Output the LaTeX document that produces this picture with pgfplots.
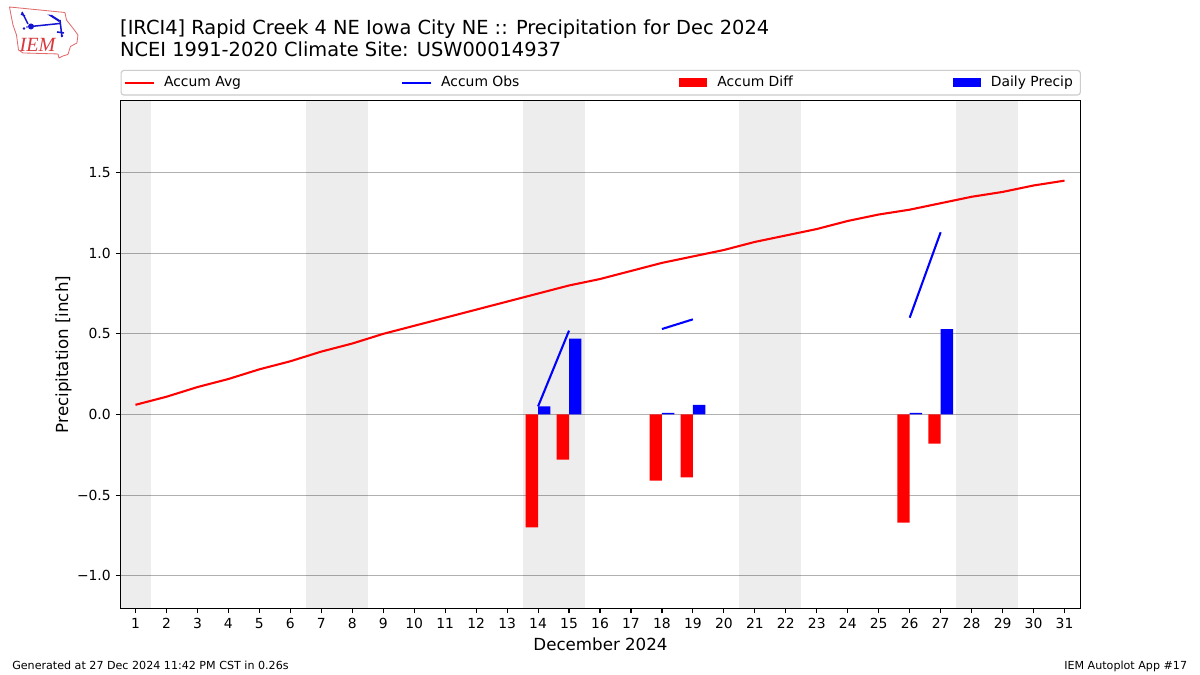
\documentclass[border=0pt]{standalone}
\usepackage{fontspec}
\setmainfont{DejaVu Sans}
\newfontfamily\logofont{Liberation Serif}
\usepackage{pgfplots}
\pgfplotsset{compat=1.18}
\definecolor{gridgray}{HTML}{B0B0B0}
\definecolor{legendgray}{HTML}{CCCCCC}
\definecolor{logored}{HTML}{D8383C}
\definecolor{logoblue}{HTML}{1414D2}
\newcommand{\fs}[1]{\fontsize{#1bp}{#1bp}\selectfont}
\pgfplotsset{
  bandstyle/.style={fill=black, fill opacity=0.07, draw=none, forget plot},
  linelegend/.style={legend image code/.code={\draw[##1] (0in,0in) -- (0.29in,0in); \path (0.355in,0in);}},
}

\begin{document}
\begin{tikzpicture}
\path[use as bounding box, fill=white] (0,0) rectangle (12in,6.75in);

% logo and page text, in pixels from the top left
\begin{scope}[shift={(0in,6.75in)}, x=0.01in, y=-0.01in]
  \draw[logored!75, line width=0.6pt, line join=round]
    (9.5,7) -- (65,12.5) -- (66.5,20) -- (74,29.5) -- (78,35) -- (77,43) -- (70.5,46.5) -- (68,54.5)
    -- (63,56) -- (59,58) -- (58,54) -- (23,53) -- (18.5,50) -- (16.5,35) -- (13,25) -- (11,15) -- cycle;
  \draw[logoblue, line width=1.1pt] (31,26.5) -- (60,23.5) (60,20) -- (62,37) (22,12) -- (28,24)
    (21,14) -- (25,16) (57,32) -- (64,33);
  \fill[logoblue] (47.5,14.5) -- (52,15) -- (60.5,20.5) -- (59,22) -- cycle;
  \fill[logoblue] (31,26.5) circle (3);
  \fill[logoblue] (24,28.5) circle (1.3) (62,36) circle (1.3) (27,27) circle (0.8);
  \node[anchor=center, inner sep=0pt, text=logored] at (37.5,44.5) {\logofont\fs{14.5}\itshape IEM};
  \node[anchor=base west, inner sep=0pt] at (120,35) {\fs{13.96}[IRCI4] Rapid Creek 4 NE Iowa City NE :: Precipitation for Dec 2024};
  \node[anchor=base west, inner sep=0pt] at (120,57) {\fs{13.96}NCEI 1991-2020 Climate Site: USW00014937};
  \node[anchor=base west, inner sep=0pt] at (12,670) {\fs{8}Generated at 27 Dec 2024 11:42 PM CST in 0.26s};
  \node[anchor=base east, inner sep=0pt] at (1188,670) {\fs{8}IEM Autoplot App \#17};
\end{scope}

\begin{axis}[
  at={(1.205in,0.665in)},
  anchor=south west,
  scale only axis,
  width=9.6in,
  height=5.08in,
  xmin=0.516, xmax=31.516,
  ymin=-1.203, ymax=1.947,
  xtick={1,...,31},
  ytick={-1,-0.5,0,0.5,1,1.5},
  yticklabels={−1.0,−0.5,0.0,0.5,1.0,1.5},
  /pgf/number format/assume math mode=true,
  xtick pos=bottom,
  ytick pos=left,
  tick align=outside,
  major tick length=3.5bp,
  tick style={black, line width=0.8bp},
  axis line style={black, line width=0.8bp},
  tick label style={font=\fs{10}},
  xlabel={December 2024},
  ylabel={Precipitation [inch]},
  ylabel shift=-3bp,
  label style={font=\fs{12}},
  ymajorgrids,
  major grid style={gridgray, line width=0.8bp},
  legend columns=4,
  legend cell align=left,
  legend style={
    at={(axis description cs:0,1.0098)},
    anchor=south west,
    font=\fs{10},
    draw=legendgray,
    line width=0.8bp,
    rounded corners=2bp,
    inner xsep=1.9bp,
    inner ysep=2.3bp,
    /tikz/every even column/.append style={column sep=1.57in},
  },
]
\addplot[bandstyle] coordinates {(0.5,-1.25) (1.5,-1.25) (1.5,2) (0.5,2)} -- cycle;
\addplot[bandstyle] coordinates {(6.5,-1.25) (8.5,-1.25) (8.5,2) (6.5,2)} -- cycle;
\addplot[bandstyle] coordinates {(13.5,-1.25) (15.5,-1.25) (15.5,2) (13.5,2)} -- cycle;
\addplot[bandstyle] coordinates {(20.5,-1.25) (22.5,-1.25) (22.5,2) (20.5,2)} -- cycle;
\addplot[bandstyle] coordinates {(27.5,-1.25) (29.5,-1.25) (29.5,2) (27.5,2)} -- cycle;

\addplot[red, line width=1.5bp, linelegend] coordinates {
  (1,0.06) (2,0.11) (3,0.17) (4,0.22) (5,0.28) (6,0.33) (7,0.39) (8,0.44)
  (9,0.50) (10,0.55) (11,0.60) (12,0.65) (13,0.70) (14,0.75) (15,0.80) (16,0.84)
  (17,0.89) (18,0.94) (19,0.98) (20,1.02) (21,1.07) (22,1.11) (23,1.15) (24,1.20)
  (25,1.24) (26,1.27) (27,1.31) (28,1.35) (29,1.38) (30,1.42) (31,1.45)};
\addlegendentry{Accum Avg}
\addplot[blue, line width=1.5bp, linelegend, unbounded coords=jump] coordinates {
  (14,0.05) (15,0.52) (16,nan) (18,0.53) (19,0.59) (20,nan) (26,0.60) (27,1.13)};
\addlegendentry{Accum Obs}
\addplot[ybar, bar width=0.4, bar shift=-0.2, fill=red, draw=none,
  legend image code/.code={\fill[red, sharp corners] (0in,-0.045in) rectangle (0.28in,0.045in); \path (0.355in,0in);}] coordinates {
  (14,-0.70) (15,-0.28) (18,-0.41) (19,-0.39) (26,-0.67) (27,-0.18)};
\addlegendentry{Accum Diff}
\addplot[ybar, bar width=0.4, bar shift=0.2, fill=blue, draw=none,
  legend image code/.code={\fill[blue, sharp corners] (0in,-0.045in) rectangle (0.28in,0.045in); \path (0.355in,0in);}] coordinates {
  (14,0.05) (15,0.47) (18,0.01) (19,0.06) (26,0.01) (27,0.53)};
\addlegendentry{Daily Precip\kern1.5bp\mbox{}}
\end{axis}
\end{tikzpicture}
\end{document}
